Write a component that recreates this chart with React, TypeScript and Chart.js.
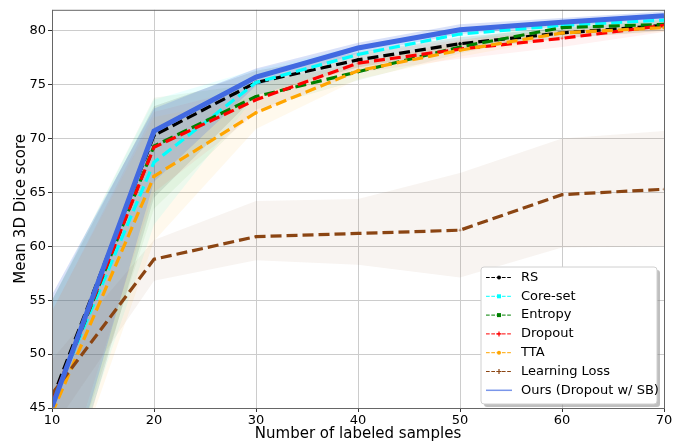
import React, { useEffect, useRef } from 'react';
import { Chart, registerables } from 'chart.js';
Chart.register(...registerables);

const samples = [10, 20, 30, 40, 50, 60, 70];
const xTicks = [10, 20, 30, 40, 50, 60, 70];
const yTicks = [45, 50, 55, 60, 65, 70, 75, 80];

const rsMean = [45.8, 70.3, 75.2, 77.3, 78.8, 79.8, 80.5];
const rsLow = [32.0, 64.5, 74.0, 76.6, 78.2, 79.3, 80.0];
const rsHigh = [55.0, 73.0, 76.3, 78.0, 79.4, 80.3, 81.0];

const coreMean = [45.5, 67.8, 75.2, 77.8, 79.7, 80.5, 81.0];
const coreLow = [34.0, 62.0, 74.0, 77.0, 79.1, 80.0, 80.6];
const coreHigh = [55.0, 73.6, 76.4, 78.6, 80.3, 81.0, 81.4];

const entMean = [45.3, 69.3, 73.9, 76.2, 78.5, 80.3, 80.6];
const entLow = [34.0, 63.5, 72.7, 75.4, 77.9, 79.8, 80.2];
const entHigh = [55.0, 73.8, 75.1, 77.0, 79.1, 80.8, 81.0];

const dropMean = [45.5, 69.2, 73.6, 77.0, 78.3, 79.3, 80.5];
const dropLow = [35.0, 65.0, 72.3, 76.1, 77.4, 78.5, 79.9];
const dropHigh = [54.0, 72.5, 74.9, 77.9, 79.2, 80.1, 81.1];

const ttaMean = [44.5, 66.5, 72.4, 76.3, 78.2, 79.8, 80.3];
const ttaLow = [33.5, 60.5, 70.9, 75.5, 77.6, 79.3, 79.9];
const ttaHigh = [54.0, 72.0, 73.9, 77.1, 78.8, 80.3, 80.7];

const llMean = [46.3, 58.8, 60.9, 61.2, 61.5, 64.8, 65.3];
const llLow = [43.0, 56.8, 58.7, 58.3, 57.1, 59.9, 60.0];
const llHigh = [49.5, 60.6, 64.2, 64.4, 66.8, 70.0, 70.7];

const oursMean = [45.1, 70.7, 75.7, 78.4, 80.1, 80.8, 81.4];
const oursLow = [33.0, 66.0, 74.9, 77.9, 79.7, 80.4, 81.0];
const oursHigh = [55.5, 72.8, 76.5, 78.9, 80.6, 81.2, 81.8];

const seriesNames = ['RS', 'Core-set', 'Entropy', 'Dropout', 'TTA', 'Learning Loss', 'Ours (Dropout w/ SB)'];

type Style = { color: string; band: string; dashed: boolean; marker: string; width: number };
const styles: Style[] = [
  { color: '#000000', band: 'rgba(0,0,0,0.1)', dashed: true, marker: 'circle', width: 3.2 },
  { color: '#00ffff', band: 'rgba(0,255,255,0.08)', dashed: true, marker: 'rect', width: 3.2 },
  { color: '#008000', band: 'rgba(0,128,0,0.06)', dashed: true, marker: 'rect', width: 3.2 },
  { color: '#ff0000', band: 'rgba(255,0,0,0.05)', dashed: true, marker: 'cross', width: 3.2 },
  { color: '#ffa500', band: 'rgba(255,165,0,0.07)', dashed: true, marker: 'circle', width: 3.2 },
  { color: '#8b4513', band: 'rgba(139,69,19,0.06)', dashed: true, marker: 'cross', width: 3.2 },
  { color: '#4169e1', band: 'rgba(65,105,225,0.2)', dashed: false, marker: 'none', width: 5 },
];

const means = [rsMean, coreMean, entMean, dropMean, ttaMean, llMean, oursMean];
const lows = [rsLow, coreLow, entLow, dropLow, ttaLow, llLow, oursLow];
const highs = [rsHigh, coreHigh, entHigh, dropHigh, ttaHigh, llHigh, oursHigh];

const pts = (arr: number[]) => arr.map((y, i) => ({ x: samples[i], y }));

function drawMarker(ctx: CanvasRenderingContext2D, kind: string, x: number, y: number, color: string) {
  ctx.save();
  ctx.fillStyle = color;
  ctx.strokeStyle = color;
  ctx.setLineDash([]);
  if (kind === 'circle') {
    ctx.beginPath();
    ctx.arc(x, y, 2, 0, Math.PI * 2);
    ctx.fill();
  } else if (kind === 'rect') {
    ctx.fillRect(x - 2, y - 2, 4, 4);
  } else if (kind === 'cross') {
    ctx.lineWidth = 1.2;
    ctx.beginPath();
    ctx.moveTo(x - 2.5, y);
    ctx.lineTo(x + 2.5, y);
    ctx.moveTo(x, y - 2.5);
    ctx.lineTo(x, y + 2.5);
    ctx.stroke();
  }
  ctx.restore();
}

const framePlugin = {
  id: 'frameAndLegend',
  afterDraw(chart: any) {
    const ctx: CanvasRenderingContext2D = chart.ctx;
    const { left, right, top, bottom } = chart.chartArea;
    ctx.save();
    ctx.strokeStyle = '#666666';
    ctx.lineWidth = 1;
    ctx.strokeRect(left + 0.5, top + 0.5, right - left, bottom - top);

    const w = 176, h = 137;
    const x0 = right - 7 - w;
    const y0 = bottom - 4 - h;
    const r = 3;
    const rr = (x: number, y: number) => {
      ctx.beginPath();
      ctx.moveTo(x + r, y);
      ctx.lineTo(x + w - r, y);
      ctx.quadraticCurveTo(x + w, y, x + w, y + r);
      ctx.lineTo(x + w, y + h - r);
      ctx.quadraticCurveTo(x + w, y + h, x + w - r, y + h);
      ctx.lineTo(x + r, y + h);
      ctx.quadraticCurveTo(x, y + h, x, y + h - r);
      ctx.lineTo(x, y + r);
      ctx.quadraticCurveTo(x, y, x + r, y);
      ctx.closePath();
    };
    rr(x0 + 3, y0 + 3);
    ctx.fillStyle = 'rgba(128,128,128,0.5)';
    ctx.fill();
    rr(x0, y0);
    ctx.fillStyle = '#ffffff';
    ctx.fill();
    ctx.strokeStyle = '#d0d0d0';
    ctx.lineWidth = 1;
    ctx.stroke();

    ctx.font = '13px "DejaVu Sans"';
    ctx.textBaseline = 'middle';
    ctx.textAlign = 'left';
    seriesNames.forEach((name, i) => {
      const s = styles[i];
      const y = y0 + 10.5 + i * 18.8;
      ctx.save();
      ctx.strokeStyle = s.dashed ? s.color : 'rgba(65,105,225,0.7)';
      ctx.lineWidth = s.dashed ? 1 : 1.5;
      ctx.setLineDash(s.dashed ? [3.7, 1.6] : []);
      ctx.beginPath();
      ctx.moveTo(x0 + 5, y);
      ctx.lineTo(x0 + 31, y);
      ctx.stroke();
      ctx.restore();
      drawMarker(ctx, s.marker, x0 + 18, y, s.color);
      ctx.fillStyle = '#000000';
      ctx.fillText(name, x0 + 40, y);
    });
    ctx.restore();
  },
};

export default function App() {
  const ref = useRef<HTMLCanvasElement | null>(null);
  useEffect(() => {
    document.body.style.margin = '0';
    const canvas = ref.current;
    if (!canvas) return;
    const datasets: any[] = [];
    const n = seriesNames.length;
    for (let i = 0; i < n; i++) {
      const s = styles[i];
      datasets.push({
        label: seriesNames[i] + ' low',
        data: pts(lows[i]),
        borderWidth: 0,
        borderColor: 'rgba(0,0,0,0)',
        pointRadius: 0,
        fill: false,
        order: 100 + (n - i) * 2,
      });
      datasets.push({
        label: seriesNames[i] + ' high',
        data: pts(highs[i]),
        borderWidth: 0,
        borderColor: 'rgba(0,0,0,0)',
        backgroundColor: s.band,
        pointRadius: 0,
        fill: '-1',
        order: 100 + (n - i) * 2 - 1,
      });
    }
    for (let i = 0; i < n; i++) {
      const s = styles[i];
      datasets.push({
        label: seriesNames[i],
        data: pts(means[i]),
        borderColor: s.color,
        backgroundColor: s.color,
        borderWidth: s.width,
        borderDash: s.dashed ? [11, 5] : [],
        pointRadius: s.dashed ? 1.5 : 0,
        pointStyle: s.marker === 'cross' ? 'cross' : s.marker === 'rect' ? 'rect' : 'circle',
        pointBorderWidth: 0.5,
        fill: false,
        order: n - i,
      });
    }
    const chart = new Chart(canvas, {
      type: 'line',
      data: { datasets },
      plugins: [framePlugin],
      options: {
        animation: false,
        responsive: false,
        maintainAspectRatio: false,
        layout: { padding: { top: 8, right: 24, left: 0, bottom: 0 } },
        plugins: { legend: { display: false }, tooltip: { enabled: false } },
        elements: { line: { tension: 0 } },
        scales: {
          x: {
            type: 'linear',
            min: 10,
            max: 70,
            afterBuildTicks: (sc: any) => { sc.ticks = xTicks.map((v) => ({ value: v })); },
            afterFit: (sc: any) => { sc.height = 35; },
            grid: { color: '#cccccc', tickColor: '#333333', tickLength: 4, lineWidth: 1 },
            border: { display: false },
            ticks: { color: '#000', font: { family: 'DejaVu Sans', size: 13 }, padding: 1, maxRotation: 0 },
            title: {
              display: true,
              text: 'Number of labeled samples',
              color: '#000',
              font: { family: 'DejaVu Sans', size: 15 },
              padding: { top: 0, bottom: 0 },
            },
          },
          y: {
            type: 'linear',
            min: 45,
            max: 81.95,
            afterBuildTicks: (sc: any) => { sc.ticks = yTicks.map((v) => ({ value: v })); },
            afterFit: (sc: any) => { sc.width = 52; },
            grid: { color: '#cccccc', tickColor: '#333333', tickLength: 4, lineWidth: 1 },
            border: { display: false },
            ticks: { color: '#000', font: { family: 'DejaVu Sans', size: 13 }, padding: 2 },
            title: {
              display: true,
              text: 'Mean 3D Dice score',
              color: '#000',
              font: { family: 'DejaVu Sans', size: 15 },
              padding: { top: 12, bottom: 0 },
            },
          },
        },
      },
    } as any);
    return () => chart.destroy();
  }, []);
  return (
    <div style={{ width: 688, height: 443, position: 'relative' }}>
      <canvas ref={ref} width={688} height={443} style={{ width: 688, height: 443, display: 'block' }} />
    </div>
  );
}
